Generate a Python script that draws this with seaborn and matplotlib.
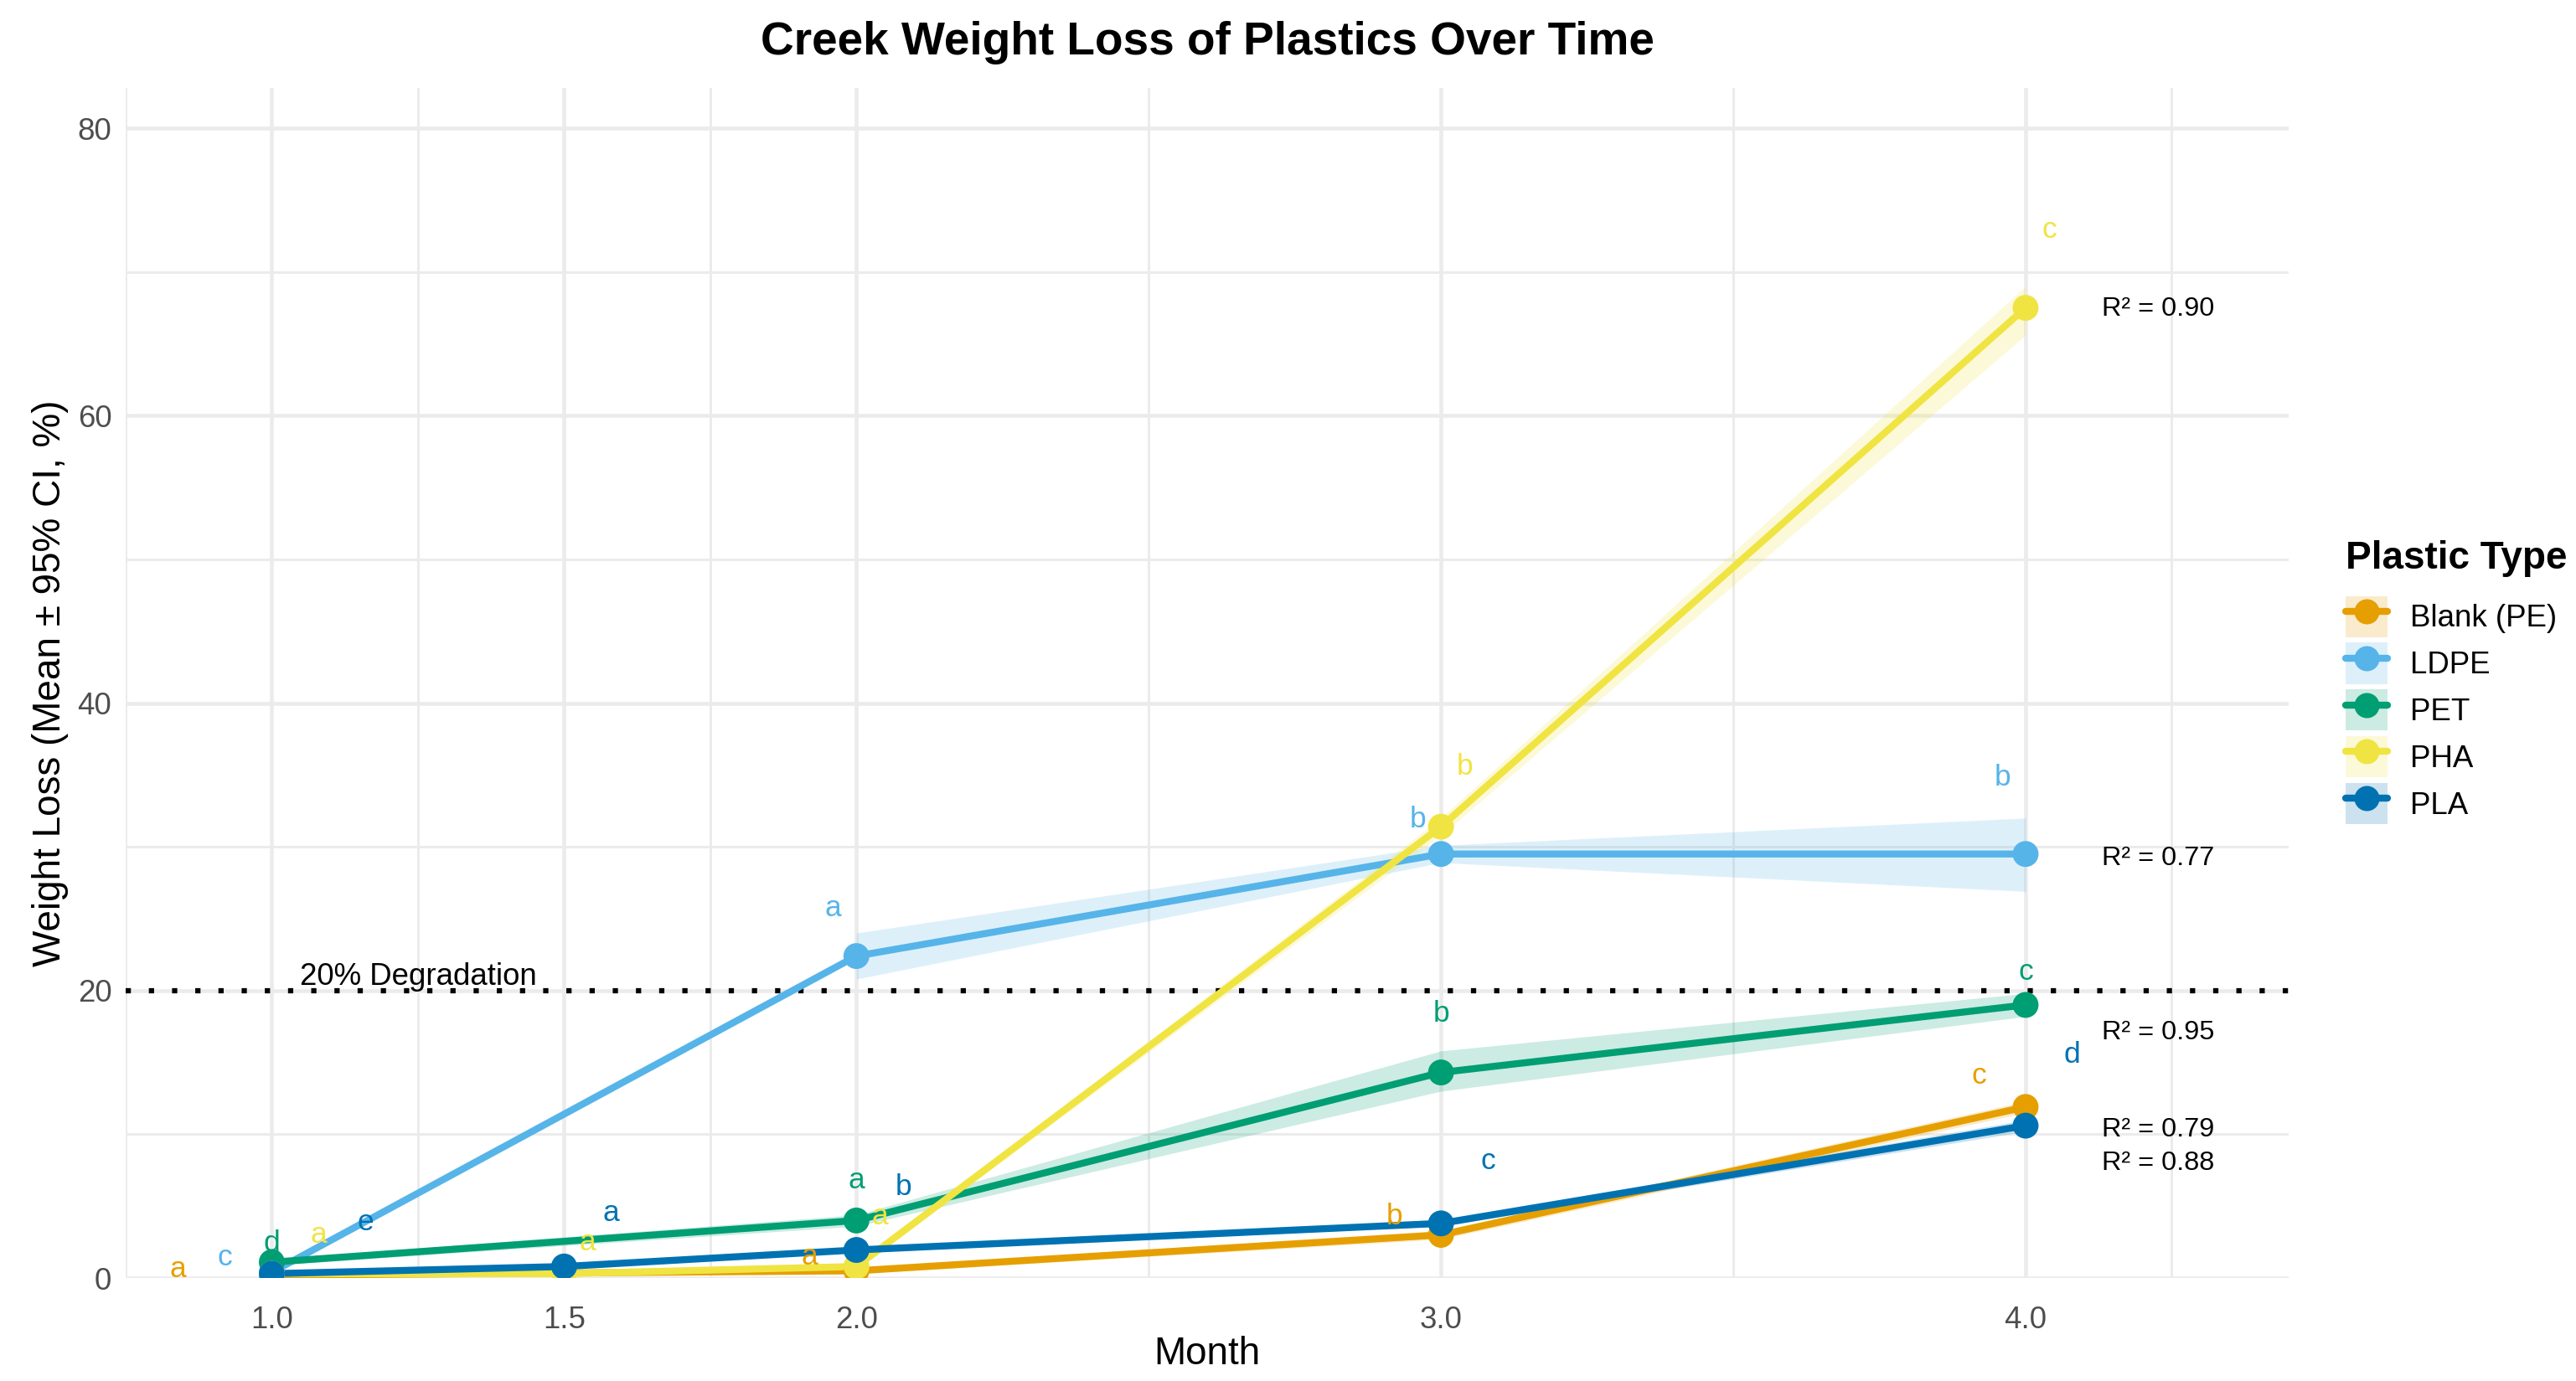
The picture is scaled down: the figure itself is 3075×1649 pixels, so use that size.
import seaborn as sns
import matplotlib.pyplot as plt
import pandas as pd
import numpy as np
from matplotlib.lines import Line2D
from matplotlib.patches import Patch
from matplotlib.legend_handler import HandlerTuple
import matplotlib

matplotlib.use("Agg")

sns.set_theme(style="white")
plt.rcParams["font.family"] = ["Liberation Sans", "DejaVu Sans"]
plt.rcParams["text.color"] = "black"
plt.rcParams["axes.labelcolor"] = "black"

# ---- data ----
plastics = ["Blank (PE)", "LDPE", "PET", "PHA", "PLA"]
colors = ["#E69F00", "#56B4E9", "#009E73", "#F0E442", "#0072B2"]

blank_month = [1.0, 2.0, 3.0, 4.0]
blank_mean = [0.2, 0.5, 3.0, 11.9]
blank_lo = [0.1, 0.3, 2.7, 11.5]
blank_hi = [0.3, 0.7, 3.3, 12.3]
blank_letters = ["a", "a", "b", "c"]
blank_letter_y = [0.6, 1.5, 4.3, 14.1]

ldpe_month = [1.0, 2.0, 3.0, 4.0]
ldpe_mean = [0.4, 22.4, 29.5, 29.5]
ldpe_lo = [np.nan, 20.8, 28.9, 26.9]
ldpe_hi = [np.nan, 24.0, 30.1, 32.0]
ldpe_letters = ["c", "a", "b", "b"]
ldpe_letter_y = [1.4, 25.7, 31.9, 34.8]

pet_month = [1.0, 2.0, 3.0, 4.0]
pet_mean = [1.1, 4.0, 14.3, 19.0]
pet_lo = [0.9, 3.6, 13.0, 18.2]
pet_hi = [1.3, 4.4, 15.8, 19.8]
pet_letters = ["d", "a", "b", "c"]
pet_letter_y = [2.4, 6.8, 18.4, 21.3]

pha_month = [1.0, 1.5, 2.0, 3.0, 4.0]
pha_mean = [0.3, 0.3, 0.8, 31.4, 67.5]
pha_lo = [0.1, 0.2, 0.6, 30.8, 65.6]
pha_hi = [0.5, 0.4, 1.0, 32.0, 69.0]
pha_letters = ["a", "a", "a", "b", "c"]
pha_letter_y = [3.0, 2.5, 4.3, 35.6, 72.9]

pla_month = [1.0, 1.5, 2.0, 3.0, 4.0]
pla_mean = [0.3, 0.8, 1.95, 3.8, 10.6]
pla_lo = [0.2, 0.7, 1.8, 3.6, 10.2]
pla_hi = [0.4, 0.9, 2.1, 4.0, 11.0]
pla_letters = ["e", "a", "b", "c", "d"]
pla_letter_y = [3.9, 4.5, 6.3, 8.1, 15.5]

r2_labels = ["R² = 0.90", "R² = 0.77", "R² = 0.95", "R² = 0.79", "R² = 0.88"]
r2_y = [67.4, 29.2, 17.1, 10.3, 8.0]

threshold = 20

series = {
    "Blank (PE)": (blank_month, blank_mean, blank_lo, blank_hi, blank_letters, blank_letter_y),
    "LDPE": (ldpe_month, ldpe_mean, ldpe_lo, ldpe_hi, ldpe_letters, ldpe_letter_y),
    "PET": (pet_month, pet_mean, pet_lo, pet_hi, pet_letters, pet_letter_y),
    "PHA": (pha_month, pha_mean, pha_lo, pha_hi, pha_letters, pha_letter_y),
    "PLA": (pla_month, pla_mean, pla_lo, pla_hi, pla_letters, pla_letter_y),
}

rows = []
for p, (m, mean, lo, hi, let, ly) in series.items():
    for i in range(len(m)):
        rows.append({"Plastic": p, "Month": m[i], "Mean": mean[i], "Lo": lo[i], "Hi": hi[i],
                     "Letter": let[i], "LetterY": ly[i]})
df = pd.DataFrame(rows)
palette = dict(zip(plastics, colors))

fig = plt.figure(figsize=(10.25, 1649 / 300))
ax = fig.add_axes([150 / 3075, 1 - 1526 / 1649, (2732 - 150) / 3075, (1526 - 105) / 1649])

# grid like ggplot theme_minimal
ax.set_xlim(0.751, 4.45)
ax.set_ylim(0, 82.8)
ax.set_xticks([1.0, 1.5, 2.0, 3.0, 4.0])
ax.set_xticklabels(["1.0", "1.5", "2.0", "3.0", "4.0"])
ax.set_xticks([0.75, 1.25, 1.75, 2.5, 3.5, 4.25], minor=True)
ax.set_yticks([0, 20, 40, 60, 80])
ax.set_yticks([10, 30, 50, 70], minor=True)
ax.grid(which="major", color="#EBEBEB", linewidth=1.1)
ax.grid(which="minor", color="#EBEBEB", linewidth=0.7)
ax.set_axisbelow(True)
for s in ax.spines.values():
    s.set_visible(False)
ax.tick_params(which="both", length=0)
ax.tick_params(axis="x", labelsize=8.8, labelcolor="#4D4D4D", pad=8)
ax.tick_params(axis="y", labelsize=8.8, labelcolor="#4D4D4D", pad=4)

# ribbons
for p in plastics:
    sub = df[df.Plastic == p]
    ax.fill_between(sub.Month, sub.Lo, sub.Hi, color=palette[p], alpha=0.2, linewidth=0, zorder=2)

ax.axhline(threshold, color="black", linewidth=1.5, linestyle=(0, (1, 3.43)),
           dash_capstyle="butt", zorder=2.5)
ax.text(1.25, threshold - 0.1, "20% Degradation", ha="center", va="bottom", fontsize=8.8, color="black")

sns.lineplot(data=df, x="Month", y="Mean", hue="Plastic", hue_order=plastics, palette=palette,
             linewidth=2.0, legend=False, ax=ax, zorder=3)
sns.scatterplot(data=df, x="Month", y="Mean", hue="Plastic", hue_order=plastics, palette=palette,
                s=55, linewidth=0, legend=False, ax=ax, zorder=4)

# significance letters, dodged per month
for idx, p in enumerate(plastics):
    sub = df[df.Plastic == p]
    for _, r in sub.iterrows():
        step = 0.08 if r.Month == 1.0 else 0.04
        ax.text(r.Month + (idx - 2) * step, r.LetterY, r.Letter, color=palette[p],
                ha="center", va="center", fontsize=8.5, zorder=5)

for lab, yv in zip(r2_labels, r2_y):
    ax.text(4.13, yv, lab, ha="left", va="center", fontsize=7.8, color="black", zorder=5)

ax.set_xlabel("Month", fontsize=11, labelpad=0.2)
ax.set_ylabel("Weight Loss (Mean ± 95% CI, %)", fontsize=11, labelpad=2.6)
ax.set_title("Creek Weight Loss of Plastics Over Time", fontsize=13.2, fontweight="bold", pad=9.5)

handles = [(Patch(facecolor=c, alpha=0.2, edgecolor="none"),
            Line2D([], [], color=c, linewidth=2.0, marker="o", markersize=7.2, markeredgewidth=0))
           for c in colors]
leg = fig.legend(handles, plastics, title="Plastic Type", loc="upper left",
                 bbox_to_anchor=(2800 / 3075, 1 - 645 / 1649), frameon=False,
                 fontsize=8.8, title_fontproperties={"weight": "bold", "size": 11},
                 handlelength=1.36, handleheight=1.69, labelspacing=0.18, handletextpad=0.74,
                 borderpad=0, borderaxespad=0, alignment="left",
                 handler_map={tuple: HandlerTuple(ndivide=1)})
# a bit more room between legend title and keys
leg._legend_box.sep = 5.4

fig.savefig("out.png", dpi=300, facecolor="white")
